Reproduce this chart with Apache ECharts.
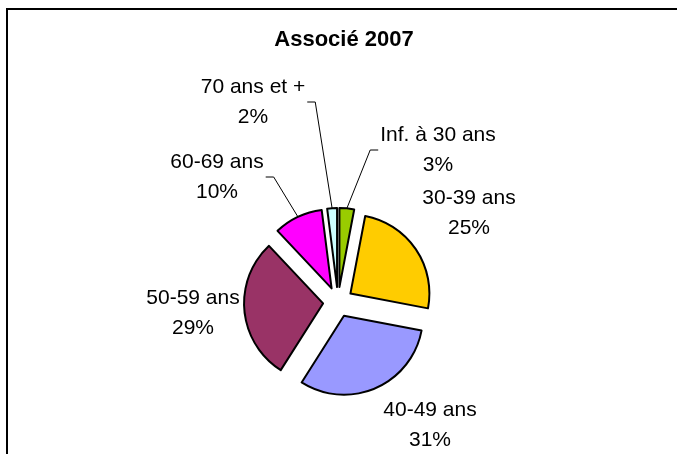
<!DOCTYPE html>
<html>
<head>
<meta charset="utf-8">
<script src="https://cdn.jsdelivr.net/npm/echarts@6/dist/echarts.min.js"></script>
<style>
  html, body { margin: 0; padding: 0; background: #fff; }
  #chart { width: 677px; height: 454px; }
</style>
</head>
<body>
<div id="chart"></div>
<script>
var categories = ['Inf. à 30 ans', '30-39 ans', '40-49 ans', '50-59 ans', '60-69 ans', '70 ans et +'];
var values = [3, 25, 31, 29, 10, 2];
var colors = ['#99CC00', '#FFCC00', '#9999FF', '#993366', '#FF00FF', '#CCFFFF'];
var withLeader = [true, false, false, false, true, true];

// where the label blocks sit (centre of the two lines)
var labelPos = [[438, 150], [469, 213], [430, 425], [193, 313], [217, 177], [253, 102]];

var pieCenter = [338, 302];
var pieRadius = 79;
var explode = 15;
var font = 'Liberation Sans, Arial, sans-serif';

var chart = echarts.init(document.getElementById('chart'));

var sliceData = categories.map(function (name, i) {
    return { name: name, value: values[i], selected: true, itemStyle: { color: colors[i] } };
});
// invisible copy that only carries the labels; its radius reaches the exploded rim
var labelData = categories.map(function (name, i) {
    return { name: name, value: values[i], labelLine: { show: withLeader[i] } };
});

var option = {
    animation: false,
    title: {
        text: 'Associé 2007',
        left: 339,
        top: 24,
        textAlign: 'center',
        textStyle: { fontFamily: font, fontSize: 22, fontWeight: 'bold', color: '#000' }
    },
    graphic: [{
        type: 'rect',
        shape: { x: 7, y: 9, width: 720, height: 500 },
        style: { fill: 'none', stroke: '#000', lineWidth: 2 },
        silent: true
    }],
    series: [{
        type: 'pie',
        center: pieCenter,
        radius: pieRadius,
        startAngle: 90,
        clockwise: true,
        selectedMode: 'multiple',
        selectedOffset: explode,
        itemStyle: { borderColor: '#000', borderWidth: 2 },
        emphasis: { disabled: true },
        label: { show: false },
        labelLine: { show: false },
        data: sliceData
    }, {
        type: 'pie',
        silent: true,
        center: pieCenter,
        radius: pieRadius + explode,
        startAngle: 90,
        clockwise: true,
        itemStyle: { color: 'rgba(0,0,0,0)', borderWidth: 0 },
        emphasis: { disabled: true },
        label: {
            show: true,
            position: 'outside',
            formatter: '{b}\n{d}%',
            fontFamily: font,
            fontSize: 21,
            lineHeight: 30,
            color: '#000'
        },
        labelLine: {
            length: 10,
            length2: 6,
            lineStyle: { color: '#000', width: 1 }
        },
        labelLayout: function (params) {
            var i = params.dataIndex;
            var p = labelPos[i];
            var out = { x: p[0], y: p[1], align: 'center', verticalAlign: 'middle' };
            if (withLeader[i] && params.labelLinePoints) {
                var start = params.labelLinePoints[0];
                var dir = start[0] > p[0] ? 1 : -1;
                var ax = p[0] + dir * (params.labelRect.width / 2 + 2);
                out.labelLinePoints = [start, [ax + dir * 8, p[1]], [ax, p[1]]];
            }
            return out;
        },
        data: labelData
    }]
};

chart.setOption(option);
</script>
</body>
</html>
